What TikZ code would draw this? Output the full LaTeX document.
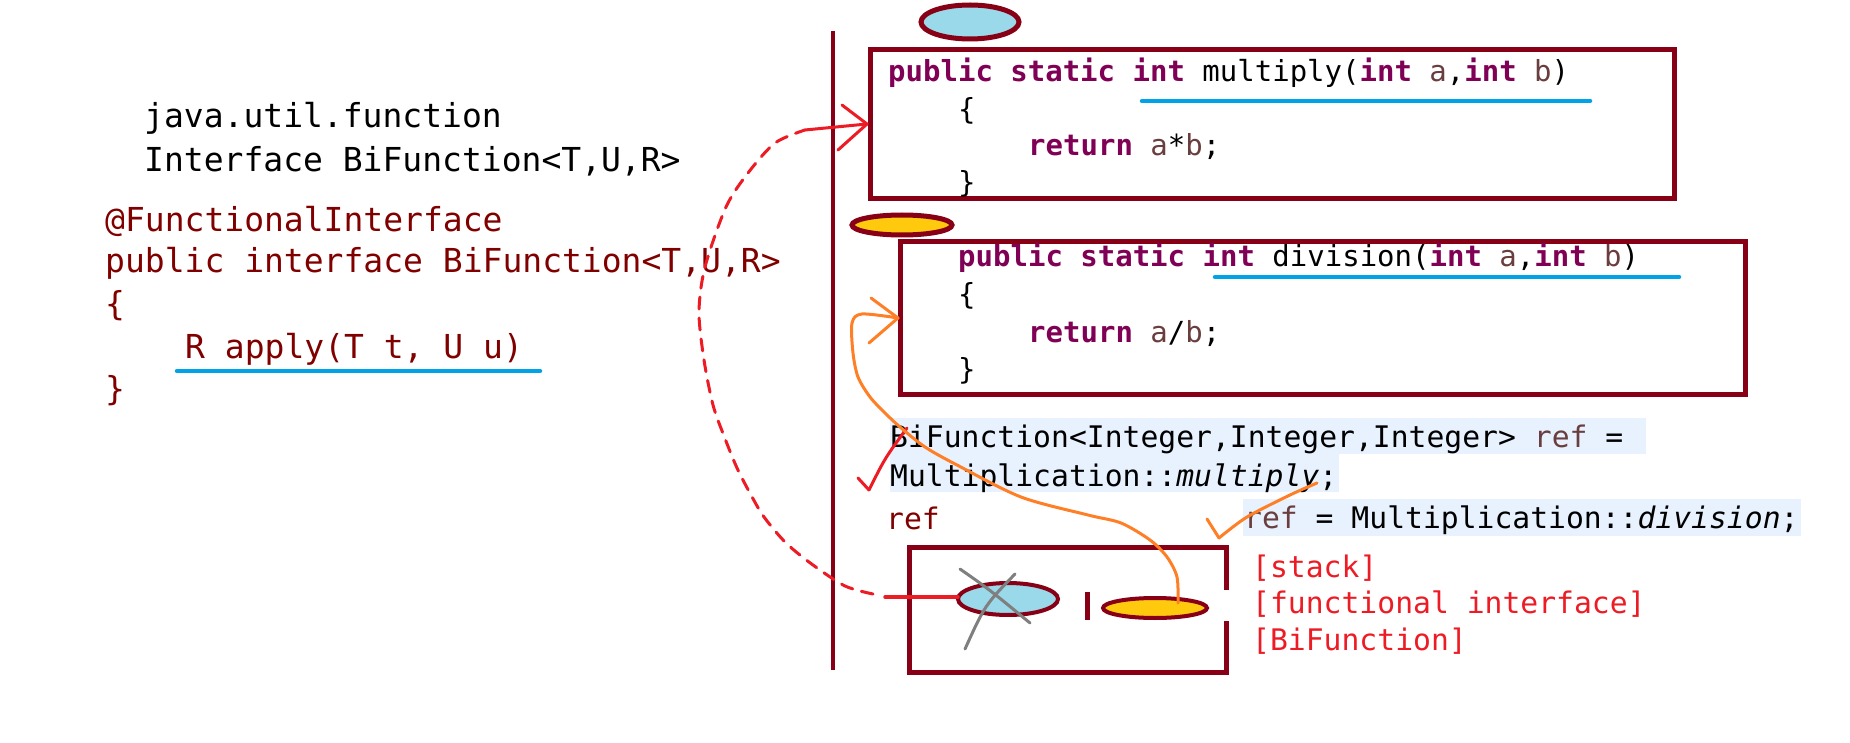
\documentclass[tikz,border=0pt]{standalone}
\usepackage{fontspec}
\setmonofont{DejaVu Sans Mono}
\usetikzlibrary{calc}
\definecolor{paintdark}{RGB}{136,0,21}
\definecolor{codedark}{RGB}{128,0,0}
\definecolor{kwpurple}{RGB}{127,0,85}
\definecolor{varbrown}{RGB}{106,62,62}
\definecolor{ulblue}{RGB}{0,162,232}
\definecolor{skyfill}{RGB}{153,217,234}
\definecolor{goldfill}{RGB}{255,201,14}
\definecolor{penred}{RGB}{237,28,36}
\definecolor{penorange}{RGB}{255,127,39}
\definecolor{pengrey}{RGB}{127,127,127}
\definecolor{hlblue}{RGB}{232,242,254}
\def\kw#1{\textcolor{kwpurple}{\bfseries #1}}
\def\vr#1{\textcolor{varbrown}{#1}}
\tikzset{
	bigcode/.style={anchor=base west, inner sep=0pt, font=\ttfamily\fontsize{33}{40}\selectfont},
	code/.style={anchor=base west, inner sep=0pt, font=\ttfamily\fontsize{29}{35}\selectfont},
	stmt/.style={anchor=base west, inner sep=0pt, font=\ttfamily\fontsize{29.7}{36}\selectfont},
	frame/.style={draw=paintdark, line width=5pt},
	uline/.style={draw=ulblue, line width=4.5pt, line cap=round},
	pen/.style={line width=3pt, line cap=round, line join=round},
}

\begin{document}
\begin{tikzpicture}[x=1pt, y=-1pt]
			%%%%% START %%%%%
			\useasboundingbox (0,0) rectangle (1850,743);
			
			\node[bigcode] (pkg) at (144,128) {java.util.function};
			\node[bigcode] (ifc) at (144,172) {Interface BiFunction<T,U,R>};
			
			\node[bigcode, text=codedark] (anno) at (105,232) {@FunctionalInterface};
			\node[bigcode, text=codedark] (decl) at (105,273) {public interface BiFunction<T,U,R>};
			\node[bigcode, text=codedark] (lbr) at (105,316) {\{};
			\node[bigcode, text=codedark] (apply) at (185,358) {R apply(T t, U u)};
			\node[bigcode, text=codedark] (rbr) at (105,400) {\}};
			\draw[uline] (177,371) -- (540,371);
			
			\draw[paintdark, line width=4pt] (833,31) -- (833,670);
			
			\draw[frame, fill=skyfill] (970,22) ellipse [x radius=49pt, y radius=17pt];
			\draw[frame] (870.5,49.5) rectangle (1674.5,198.5);
			\node[code] (mulhead) at (888,82) {\kw{public static int} multiply(\kw{int} \vr{a},\kw{int} \vr{b})};
			\node[code] (mulopen) at (958,120) {\{};
			\node[code] (mulret) at (1028,156) {\kw{return} \vr{a}*\vr{b};};
			\node[code] (mulclose) at (958,193) {\}};
			\draw[uline] (1142,101) -- (1590,101);
			
			\draw[frame, fill=goldfill] (902,225) ellipse [x radius=50pt, y radius=10pt];
			\draw[frame] (900.5,241.5) rectangle (1745.5,394.5);
			\node[code] (divhead) at (958,267) {\kw{public static int} division(\kw{int} \vr{a},\kw{int} \vr{b})};
			\node[code] (divopen) at (958,305) {\{};
			\node[code] (divret) at (1028,342) {\kw{return} \vr{a}/\vr{b};};
			\node[code] (divclose) at (958,379) {\}};
			\draw[uline] (1215,277) -- (1679,277);
			
			\fill[hlblue] (890,418) rectangle (1646,454);
			\fill[hlblue] (890,454) rectangle (1339,492);
			\fill[hlblue] (1243,499) rectangle (1801,536);
			\node[stmt] (decla) at (890,447) {BiFunction<Integer,Integer,Integer> \vr{ref} =};
			\node[stmt] (declb) at (890,486) {Multiplication::\textit{multiply};};
			\node[stmt] (reassign) at (1244,528) {\vr{ref} = Multiplication::\textit{division};};
			\node[stmt, text=codedark] (refname) at (886,529) {ref};
			
			\draw[frame] (1226.5,590) -- (1226.5,547.5) -- (909,547.5) -- (909,672.5) -- (1226.5,672.5) -- (1226.5,621);
			\draw[frame, line width=4pt, fill=skyfill] (1008,599) ellipse [x radius=50pt, y radius=16pt];
			\draw[paintdark, line width=5pt] (1087,592) -- (1087,620);
			\draw[frame, line width=4pt, fill=goldfill] (1155,608) ellipse [x radius=52pt, y radius=10pt];
			\node[stmt, text=penred] (lstack) at (1252,577) {[stack]};
			\node[stmt, text=penred] (lfunc) at (1252,613) {[functional interface]};
			\node[stmt, text=penred] (lbif) at (1252,650) {[BiFunction]};
			
			\draw[pen, pengrey] (960,569) .. controls (990,590) .. (1030,623);
			\draw[pen, pengrey] (1015,574) .. controls (985,605) .. (965,649);
			
			\draw[pen, penred, line width=3.5pt] (885,597) -- (958,597);
			\draw[pen, penred, dash pattern=on 12pt off 9pt] plot[smooth] coordinates {(873,594) (845,586) (813,565) (786,543) (764,517) (751,495) (737,468) (724,436) (713,405) (704,360) (699,312) (705,267) (726,207) (748,173) (775,143) (805,130)};
			\draw[pen, penred] (805,130) -- (867,124);
			\draw[pen, penred] (842,105) -- (867,124) -- (838,150);
			
			\draw[pen, penred] (907,428) .. controls (885,458) .. (869,490);
			\draw[pen, penred] (858,478) -- (869,490);
			
			\draw[pen, penorange] plot[smooth] coordinates {(1178,603) (1177,577) (1167,557) (1150,540) (1121,523) (1088,515) (1021,497) (957,465) (925,447) (900,427) (885,413) (870,397) (858,377) (853,353) (852,323) (862,314) (898,318)};
			\draw[pen, penorange] (871,298) -- (898,318) -- (869,343);
			
			\draw[pen, penorange] plot[smooth] coordinates {(1317,483) (1290,495) (1247,517) (1219,538)};
			\draw[pen, penorange] (1207,519) -- (1219,538);
			
			%%%%% END %%%%%
		\end{tikzpicture}
\end{document}
